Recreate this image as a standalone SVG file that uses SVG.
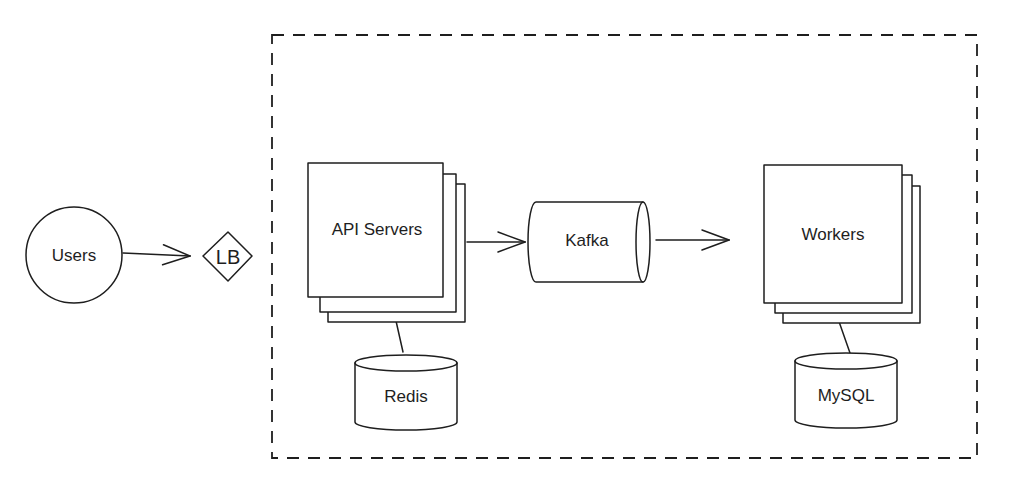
<svg xmlns="http://www.w3.org/2000/svg" width="1023" height="499" viewBox="0 0 1023 499">
<defs>
<style>
.s{fill:#fff;stroke:#1e1e1e;stroke-width:1.5;stroke-linejoin:round;stroke-linecap:round}
.l{fill:none;stroke:#1e1e1e;stroke-width:1.5;stroke-linecap:round;stroke-linejoin:round}
.t{font-family:"Liberation Sans",Arial,sans-serif;font-size:17px;fill:#1e1e1e;text-anchor:middle;dominant-baseline:central}
</style>
<marker id="ah" viewBox="0 0 30 24" refX="29" refY="12" markerWidth="30" markerHeight="24" markerUnits="userSpaceOnUse" orient="auto">
<path d="M2,2 L29,12 L2,22" fill="none" stroke="#1e1e1e" stroke-width="1.5" stroke-linecap="round"/>
</marker>
</defs>
<rect width="1023" height="499" fill="#fff"/>
<g id="boundary">
<rect x="272" y="35" width="705" height="423" fill="none" stroke="#1e1e1e" stroke-width="1.8" stroke-dasharray="12 9"/>
</g>
<g id="connectors">
<line class="l" x1="123" y1="253" x2="190" y2="256" marker-end="url(#ah)"/>
<line class="l" x1="467" y1="242" x2="525" y2="242" marker-end="url(#ah)"/>
<line class="l" x1="656" y1="240" x2="729" y2="240" marker-end="url(#ah)"/>
<line class="l" x1="394" y1="312" x2="403" y2="352"/>
<line class="l" x1="836" y1="313" x2="850" y2="353"/>
</g>
<g id="users">
<circle class="s" cx="74" cy="255" r="48"/>
<text class="t" x="74" y="255">Users</text>
</g>
<g id="lb">
<polygon class="s" points="228,232 252,256 228,281 203,256"/>
<text class="t" x="228" y="257" style="font-size:20px">LB</text>
</g>
<g id="api-servers">
<rect class="s" x="328" y="184" width="137" height="138"/>
<rect class="s" x="320" y="174" width="136" height="138"/>
<rect class="s" x="308" y="163" width="135" height="134"/>
<text class="t" x="377" y="229">API Servers</text>
</g>
<g id="kafka">
<path class="s" d="M536,202 L643,202 A7,40 0 0 1 643,282 L536,282 A8,40 0 0 1 536,202 Z"/>
<path class="l" d="M643,202 A7,40 0 0 0 643,282"/>
<text class="t" x="587" y="240">Kafka</text>
</g>
<g id="workers">
<rect class="s" x="783" y="186" width="137" height="137"/>
<rect class="s" x="775" y="175" width="137" height="138"/>
<rect class="s" x="764" y="165" width="138" height="138"/>
<text class="t" x="833" y="234">Workers</text>
</g>
<g id="redis">
<path class="s" d="M355,363 A51,8 0 0 1 457,363 L457,422 A51,8 0 0 1 355,422 Z"/>
<path class="l" d="M355,363 A51,8 0 0 0 457,363"/>
<text class="t" x="406" y="396">Redis</text>
</g>
<g id="mysql">
<path class="s" d="M795,361 A51,8 0 0 1 897,361 L897,420 A51,8 0 0 1 795,420 Z"/>
<path class="l" d="M795,361 A51,8 0 0 0 897,361"/>
<text class="t" x="846" y="395">MySQL</text>
</g>
</svg>
